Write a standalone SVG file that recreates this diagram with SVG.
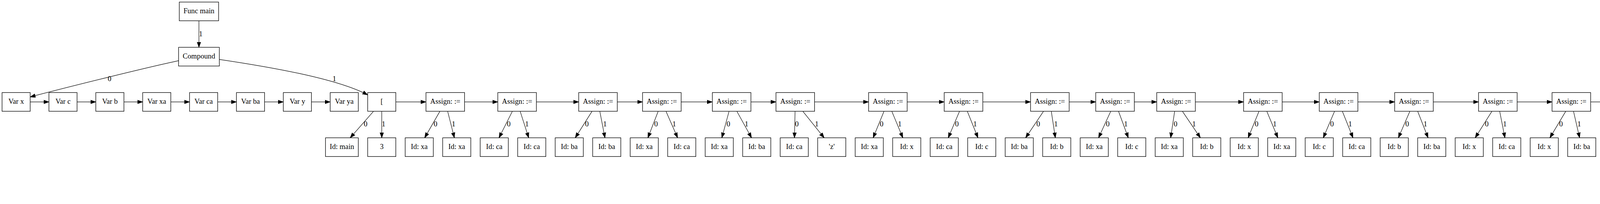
<svg xmlns="http://www.w3.org/2000/svg" width="6683" height="523" viewBox="0 0 6683 523">
<defs>
<style>
.n rect{fill:#fff;stroke:#000;stroke-width:1.33}
text{font-family:"Liberation Serif","Times New Roman",serif;font-size:18.67px;text-anchor:middle;fill:#000}
#edges path{fill:none;stroke:#000;stroke-width:1.2;marker-end:url(#arr)}
</style>
<marker id="arr" markerUnits="userSpaceOnUse" markerWidth="16" markerHeight="12" viewBox="0 -6 16 12" refX="13.33" refY="0" orient="auto">
<path d="M0,-4.67 L13.33,0 L0,4.67 Z" fill="#000" stroke="#000" stroke-width="1"/>
</marker>
</defs>
<rect x="0" y="0" width="6683" height="523" fill="#fff"/>
<g id="edges">
<path d="M509.3,53.33 L509.3,121.33"/><text x="514" y="92.5">1</text>
<path d="M457.2,155.7 C380,172 190,219 77.3,248.5"/><text x="280.4" y="208.3">0</text>
<path d="M561.4,152.3 C680,170 860,200 941.3,243.3"/><text x="856" y="208.3">1</text>
<path d="M77.33,261.33 L125.33,261.33"/>
<path d="M197.33,261.33 L245.33,261.33"/>
<path d="M317.33,261.33 L365.33,261.33"/>
<path d="M437.33,261.33 L485.33,261.33"/>
<path d="M557.33,261.33 L605.33,261.33"/>
<path d="M677.33,261.33 L725.33,261.33"/>
<path d="M797.33,261.33 L845.33,261.33"/>
<path d="M1013.33,261.33 L1090.5,261.33"/>
<path d="M1189.3,261.33 L1274.4,261.33"/>
<path d="M1373.2,261.33 L1481.5,261.33"/>
<path d="M1580.3,261.33 L1644.9,261.33"/>
<path d="M1743.7,261.33 L1823.6,261.33"/>
<path d="M1922.4,261.33 L1986.5,261.33"/>
<path d="M2085.3,261.33 L2223.6,261.33"/>
<path d="M2322.4,261.33 L2417.2,261.33"/>
<path d="M2516,261.33 L2638.3,261.33"/>
<path d="M2737.1,261.33 L2805.1,261.33"/>
<path d="M2903.9,261.33 L2961.3,261.33"/>
<path d="M3060.1,261.33 L3183.6,261.33"/>
<path d="M3282.4,261.33 L3377.4,261.33"/>
<path d="M3476.2,261.33 L3570.4,261.33"/>
<path d="M3669.2,261.33 L3785.1,261.33"/>
<path d="M3883.9,261.33 L3973.3,261.33"/>
<path d="M4072.1,261.33 L4134.5,261.33"/>
<path d="M4206.5,261.33 L4337.2,261.33"/>
<path d="M4409.2,261.33 L4541.3,261.33"/>
<path d="M4613.3,261.33 L4733.3,261.33"/>
<path d="M4805.3,261.33 L4925.1,261.33"/>
<path d="M4997.1,261.33 L5117.2,261.33"/>
<path d="M5189.2,261.33 L5333.3,261.33"/>
<path d="M5405.3,261.33 L5477.2,261.33"/>
<path d="M5549.2,261.33 L5633.3,261.33"/>
<path d="M5705.3,261.33 L5753.3,261.33"/>
<path d="M5825.3,261.33 L5873.3,261.33"/>
<path d="M5945.3,261.33 L5993.3,261.33"/>
<path d="M6065.3,261.33 L6132,261.33"/>
<path d="M6204,261.33 L6269.3,261.33"/>
<path d="M6341.3,261.33 L6413.3,261.33"/>
<path d="M6485.3,261.33 L6545.3,261.33"/>
<path d="M956.2,285.33 L896.5,353.33"/><text x="936" y="324">0</text>
<path d="M977.33,285.33 L977.33,353.33"/><text x="982" y="324">1</text>
<path d="M1126.1,285.33 L1087.1,353.33"/><text x="1115" y="324">0</text>
<path d="M1146,285.33 L1163.2,353.33"/><text x="1161.1" y="324">1</text>
<path d="M1311.7,285.33 L1277.4,353.33"/><text x="1302.5" y="324">0</text>
<path d="M1331.6,285.33 L1353.5,353.33"/><text x="1349" y="324">1</text>
<path d="M1515.6,285.33 L1472.6,353.33"/><text x="1502.3" y="324">0</text>
<path d="M1535.5,285.33 L1548.7,353.33"/><text x="1548.7" y="324">1</text>
<path d="M1685,285.33 L1658.6,353.33"/><text x="1679.5" y="324">0</text>
<path d="M1704.9,285.33 L1734.7,353.33"/><text x="1726" y="324">1</text>
<path d="M1866.4,285.33 L1847.9,353.33"/><text x="1864.7" y="324">0</text>
<path d="M1886.3,285.33 L1924,353.33"/><text x="1911.1" y="324">1</text>
<path d="M2035.4,285.33 L2033.8,353.33"/><text x="2040" y="324">0</text>
<path d="M2055.3,285.33 L2109.9,353.33"/><text x="2091" y="324">1</text>
<path d="M2263.1,285.33 L2235.2,353.33"/><text x="2256.9" y="324">0</text>
<path d="M2283,285.33 L2311.3,353.33"/><text x="2303.4" y="324">1</text>
<path d="M2456.4,285.33 L2427.5,353.33"/><text x="2449.7" y="324">0</text>
<path d="M2476.3,285.33 L2503.6,353.33"/><text x="2496.2" y="324">1</text>
<path d="M2671.4,285.33 L2625.6,353.33"/><text x="2657.8" y="324">0</text>
<path d="M2691.3,285.33 L2701.7,353.33"/><text x="2703.2" y="324">1</text>
<path d="M2843.5,285.33 L2812.3,353.33"/><text x="2835.8" y="324">0</text>
<path d="M2863.4,285.33 L2888.4,353.33"/><text x="2882.2" y="324">1</text>
<path d="M3007.1,285.33 L2996.9,353.33"/><text x="3009.3" y="324">0</text>
<path d="M3027,285.33 L3073,353.33"/><text x="3056.7" y="324">1</text>
<path d="M3223.1,285.33 L3195.2,353.33"/><text x="3216.9" y="324">0</text>
<path d="M3243,285.33 L3271.3,353.33"/><text x="3263.4" y="324">1</text>
<path d="M3416.5,285.33 L3387.6,353.33"/><text x="3409.8" y="324">0</text>
<path d="M3436.4,285.33 L3463.7,353.33"/><text x="3456.3" y="324">1</text>
<path d="M3609.3,285.33 L3579.8,353.33"/><text x="3602.4" y="324">0</text>
<path d="M3629.2,285.33 L3655.9,353.33"/><text x="3648.8" y="324">1</text>
<path d="M3819.3,285.33 L3776.5,353.33"/><text x="3806.1" y="324">0</text>
<path d="M3839.2,285.33 L3852.6,353.33"/><text x="3852.5" y="324">1</text>
<path d="M4008.3,285.33 L3967.7,353.33"/><text x="3996.1" y="324">0</text>
<path d="M4028.2,285.33 L4043.8,353.33"/><text x="4042.6" y="324">1</text>
<path d="M4165.3,285.33 L4150.5,353.33"/><text x="4165.3" y="324">0</text>
<path d="M4185.2,285.33 L4226.6,353.33"/><text x="4212.8" y="324">1</text>
<path d="M4365.8,285.33 L4344.7,353.33"/><text x="4362.8" y="324">0</text>
<path d="M4385.7,285.33 L4420.8,353.33"/><text x="4409.3" y="324">1</text>
<path d="M4567.3,285.33 L4539.3,353.33"/><text x="4561.1" y="324">0</text>
<path d="M4587.3,285.33 L4615.3,353.33"/><text x="4607.5" y="324">1</text>
<path d="M4759.3,285.33 L4731.3,353.33"/><text x="4753.1" y="324">0</text>
<path d="M4779.3,285.33 L4807.3,353.33"/><text x="4799.5" y="324">1</text>
<path d="M4951.2,285.33 L4923.2,353.33"/><text x="4944" y="324">0</text>
<path d="M4971.1,285.33 L4999.3,353.33"/><text x="4991.4" y="324">1</text>
<path d="M5143.3,285.33 L5115.2,353.33"/><text x="5136" y="324">0</text>
<path d="M5163.2,285.33 L5191.3,353.33"/><text x="5183.5" y="324">1</text>
<path d="M5354.4,285.33 L5312.2,353.33"/><text x="5342.5" y="324">0</text>
<path d="M5374.3,285.33 L5388.3,353.33"/><text x="5387.9" y="324">1</text>
<path d="M5508.2,285.33 L5494.3,353.33"/><text x="5508.6" y="324">0</text>
<path d="M5528.2,285.33 L5570.3,353.33"/><text x="5556.1" y="324">1</text>
<path d="M5671.8,285.33 L5678.8,353.33"/><text x="5681.6" y="324">0</text>
<path d="M5789.3,285.33 L5789.3,353.33"/><text x="5794" y="324">0</text>
<path d="M5909.3,285.33 L5909.3,353.33"/><text x="5914" y="324">0</text>
<path d="M6026.8,285.33 L6019.8,353.33"/><text x="6030" y="324">0</text>
<path d="M6156.7,285.33 L6124.6,353.33"/><text x="6148.5" y="324">0</text>
<path d="M6176.6,285.33 L6200.7,353.33"/><text x="6195" y="324">1</text>
<path d="M6305.3,285.33 L6305.3,353.33"/><text x="6310" y="324">0</text>
<path d="M6439.3,285.33 L6411.3,353.33"/><text x="6433.1" y="324">0</text>
<path d="M6459.3,285.33 L6487.3,353.33"/><text x="6479.5" y="324">1</text>
<path d="M6583.7,285.33 L6590.8,353.33"/><text x="6593.6" y="324">0</text>
<path d="M6017.3,401.33 L6017.3,469.33"/><text x="6022" y="440">0</text>
<path d="M6295.3,401.33 L6267.3,469.33"/><text x="6289.1" y="440">0</text>
<path d="M6315.3,401.33 L6343.3,469.33"/><text x="6335.5" y="440">1</text>
<path d="M6583.3,401.33 L6555.3,469.33"/><text x="6577.1" y="440">0</text>
<path d="M6603.3,401.33 L6631.3,469.33"/><text x="6623.5" y="440">1</text>
</g>
<g id="n_func" class="n"><rect x="459" y="5.33" width="100.6" height="48"/><text x="509.3" y="34.1">Func main</text></g>
<g id="n_compound" class="n"><rect x="457.2" y="121.33" width="104.3" height="48"/><text x="509.3" y="150.1">Compound</text></g>
<g id="n_var_x" class="n"><rect x="5.33" y="237.33" width="72" height="48"/><text x="41.33" y="266.1">Var x</text></g>
<g id="n_var_c" class="n"><rect x="125.33" y="237.33" width="72" height="48"/><text x="161.33" y="266.1">Var c</text></g>
<g id="n_var_b" class="n"><rect x="245.33" y="237.33" width="72" height="48"/><text x="281.33" y="266.1">Var b</text></g>
<g id="n_var_xa" class="n"><rect x="365.33" y="237.33" width="72" height="48"/><text x="401.33" y="266.1">Var xa</text></g>
<g id="n_var_ca" class="n"><rect x="485.33" y="237.33" width="72" height="48"/><text x="521.33" y="266.1">Var ca</text></g>
<g id="n_var_ba" class="n"><rect x="605.33" y="237.33" width="72" height="48"/><text x="641.33" y="266.1">Var ba</text></g>
<g id="n_var_y" class="n"><rect x="725.33" y="237.33" width="72" height="48"/><text x="761.33" y="266.1">Var y</text></g>
<g id="n_var_ya" class="n"><rect x="845.33" y="237.33" width="72" height="48"/><text x="881.33" y="266.1">Var ya</text></g>
<g id="n_idx0" class="n"><rect x="941.33" y="237.33" width="72" height="48"/><text x="977.33" y="266.1">[</text></g>
<g id="n_as1" class="n"><rect x="1090.5" y="237.33" width="98.8" height="48"/><text x="1139.9" y="266.1">Assign: :=</text></g>
<g id="n_as2" class="n"><rect x="1274.4" y="237.33" width="98.8" height="48"/><text x="1323.8" y="266.1">Assign: :=</text></g>
<g id="n_as3" class="n"><rect x="1481.5" y="237.33" width="98.8" height="48"/><text x="1530.9" y="266.1">Assign: :=</text></g>
<g id="n_as4" class="n"><rect x="1644.9" y="237.33" width="98.8" height="48"/><text x="1694.3" y="266.1">Assign: :=</text></g>
<g id="n_as5" class="n"><rect x="1823.6" y="237.33" width="98.8" height="48"/><text x="1873" y="266.1">Assign: :=</text></g>
<g id="n_as6" class="n"><rect x="1986.5" y="237.33" width="98.8" height="48"/><text x="2035.9" y="266.1">Assign: :=</text></g>
<g id="n_as7" class="n"><rect x="2223.6" y="237.33" width="98.8" height="48"/><text x="2273" y="266.1">Assign: :=</text></g>
<g id="n_as8" class="n"><rect x="2417.2" y="237.33" width="98.8" height="48"/><text x="2466.6" y="266.1">Assign: :=</text></g>
<g id="n_as9" class="n"><rect x="2638.3" y="237.33" width="98.8" height="48"/><text x="2687.7" y="266.1">Assign: :=</text></g>
<g id="n_as10" class="n"><rect x="2805.1" y="237.33" width="98.8" height="48"/><text x="2854.5" y="266.1">Assign: :=</text></g>
<g id="n_as11" class="n"><rect x="2961.3" y="237.33" width="98.8" height="48"/><text x="3010.7" y="266.1">Assign: :=</text></g>
<g id="n_as12" class="n"><rect x="3183.6" y="237.33" width="98.8" height="48"/><text x="3233" y="266.1">Assign: :=</text></g>
<g id="n_as13" class="n"><rect x="3377.4" y="237.33" width="98.8" height="48"/><text x="3426.8" y="266.1">Assign: :=</text></g>
<g id="n_as14" class="n"><rect x="3570.4" y="237.33" width="98.8" height="48"/><text x="3619.8" y="266.1">Assign: :=</text></g>
<g id="n_as15" class="n"><rect x="3785.1" y="237.33" width="98.8" height="48"/><text x="3834.5" y="266.1">Assign: :=</text></g>
<g id="n_as16" class="n"><rect x="3973.3" y="237.33" width="98.8" height="48"/><text x="4022.7" y="266.1">Assign: :=</text></g>
<g id="n_gt1" class="n"><rect x="4134.5" y="237.33" width="72" height="48"/><text x="4170.5" y="266.1">&gt;</text></g>
<g id="n_lt1" class="n"><rect x="4337.2" y="237.33" width="72" height="48"/><text x="4373.2" y="266.1">&lt;</text></g>
<g id="n_ge1" class="n"><rect x="4541.3" y="237.33" width="72" height="48"/><text x="4577.3" y="266.1">&gt;=</text></g>
<g id="n_le1" class="n"><rect x="4733.3" y="237.33" width="72" height="48"/><text x="4769.3" y="266.1">&lt;=</text></g>
<g id="n_eq1" class="n"><rect x="4925.1" y="237.33" width="72" height="48"/><text x="4961.1" y="266.1">=</text></g>
<g id="n_gtlt1" class="n"><rect x="5117.2" y="237.33" width="72" height="48"/><text x="5153.2" y="266.1">&gt;&lt;</text></g>
<g id="n_gt2" class="n"><rect x="5333.3" y="237.33" width="72" height="48"/><text x="5369.3" y="266.1">&gt;</text></g>
<g id="n_gt3" class="n"><rect x="5477.2" y="237.33" width="72" height="48"/><text x="5513.2" y="266.1">&gt;</text></g>
<g id="n_q1" class="n"><rect x="5633.3" y="237.33" width="72" height="48"/><text x="5669.3" y="266.1">?</text></g>
<g id="n_sz1" class="n"><rect x="5753.3" y="237.33" width="72" height="48"/><text x="5789.3" y="266.1">sizeof</text></g>
<g id="n_sz2" class="n"><rect x="5873.3" y="237.33" width="72" height="48"/><text x="5909.3" y="266.1">sizeof</text></g>
<g id="n_sz3" class="n"><rect x="5993.3" y="237.33" width="72" height="48"/><text x="6029.3" y="266.1">sizeof</text></g>
<g id="n_idx1" class="n"><rect x="6132" y="237.33" width="72" height="48"/><text x="6168" y="266.1">[</text></g>
<g id="n_sz4" class="n"><rect x="6269.3" y="237.33" width="72" height="48"/><text x="6305.3" y="266.1">sizeof</text></g>
<g id="n_idx2" class="n"><rect x="6413.3" y="237.33" width="72" height="48"/><text x="6449.3" y="266.1">[</text></g>
<g id="n_sz5" class="n"><rect x="6545.3" y="237.33" width="72" height="48"/><text x="6581.3" y="266.1">sizeof</text></g>
<g id="n_id_main" class="n"><rect x="833.33" y="353.33" width="84" height="48"/><text x="875.33" y="382.1">Id: main</text></g>
<g id="n_c3" class="n"><rect x="941.33" y="353.33" width="72" height="48"/><text x="977.33" y="382.1">3</text></g>
<g id="n_r3_1" class="n"><rect x="1037.33" y="353.33" width="72" height="48"/><text x="1073.33" y="382.1">Id: xa</text></g>
<g id="n_r3_2" class="n"><rect x="1133.33" y="353.33" width="72" height="48"/><text x="1169.33" y="382.1">Id: xa</text></g>
<g id="n_r3_3" class="n"><rect x="1229.33" y="353.33" width="72" height="48"/><text x="1265.33" y="382.1">Id: ca</text></g>
<g id="n_r3_4" class="n"><rect x="1325.33" y="353.33" width="72" height="48"/><text x="1361.33" y="382.1">Id: ca</text></g>
<g id="n_r3_5" class="n"><rect x="1421.33" y="353.33" width="72" height="48"/><text x="1457.33" y="382.1">Id: ba</text></g>
<g id="n_r3_6" class="n"><rect x="1517.33" y="353.33" width="72" height="48"/><text x="1553.33" y="382.1">Id: ba</text></g>
<g id="n_r3_7" class="n"><rect x="1613.33" y="353.33" width="72" height="48"/><text x="1649.33" y="382.1">Id: xa</text></g>
<g id="n_r3_8" class="n"><rect x="1709.33" y="353.33" width="72" height="48"/><text x="1745.33" y="382.1">Id: ca</text></g>
<g id="n_r3_9" class="n"><rect x="1805.33" y="353.33" width="72" height="48"/><text x="1841.33" y="382.1">Id: xa</text></g>
<g id="n_r3_10" class="n"><rect x="1901.33" y="353.33" width="72" height="48"/><text x="1937.33" y="382.1">Id: ba</text></g>
<g id="n_r3_11" class="n"><rect x="1997.33" y="353.33" width="72" height="48"/><text x="2033.33" y="382.1">Id: ca</text></g>
<g id="n_r3_12" class="n"><rect x="2093.33" y="353.33" width="72" height="48"/><text x="2129.33" y="382.1">'z'</text></g>
<g id="n_r3_13" class="n"><rect x="2189.33" y="353.33" width="72" height="48"/><text x="2225.33" y="382.1">Id: xa</text></g>
<g id="n_r3_14" class="n"><rect x="2285.33" y="353.33" width="72" height="48"/><text x="2321.33" y="382.1">Id: x</text></g>
<g id="n_r3_15" class="n"><rect x="2381.33" y="353.33" width="72" height="48"/><text x="2417.33" y="382.1">Id: ca</text></g>
<g id="n_r3_16" class="n"><rect x="2477.33" y="353.33" width="72" height="48"/><text x="2513.33" y="382.1">Id: c</text></g>
<g id="n_r3_17" class="n"><rect x="2573.33" y="353.33" width="72" height="48"/><text x="2609.33" y="382.1">Id: ba</text></g>
<g id="n_r3_18" class="n"><rect x="2669.33" y="353.33" width="72" height="48"/><text x="2705.33" y="382.1">Id: b</text></g>
<g id="n_r3_19" class="n"><rect x="2765.33" y="353.33" width="72" height="48"/><text x="2801.33" y="382.1">Id: xa</text></g>
<g id="n_r3_20" class="n"><rect x="2861.33" y="353.33" width="72" height="48"/><text x="2897.33" y="382.1">Id: c</text></g>
<g id="n_r3_21" class="n"><rect x="2957.33" y="353.33" width="72" height="48"/><text x="2993.33" y="382.1">Id: xa</text></g>
<g id="n_r3_22" class="n"><rect x="3053.33" y="353.33" width="72" height="48"/><text x="3089.33" y="382.1">Id: b</text></g>
<g id="n_r3_23" class="n"><rect x="3149.33" y="353.33" width="72" height="48"/><text x="3185.33" y="382.1">Id: x</text></g>
<g id="n_r3_24" class="n"><rect x="3245.33" y="353.33" width="72" height="48"/><text x="3281.33" y="382.1">Id: xa</text></g>
<g id="n_r3_25" class="n"><rect x="3341.33" y="353.33" width="72" height="48"/><text x="3377.33" y="382.1">Id: c</text></g>
<g id="n_r3_26" class="n"><rect x="3437.33" y="353.33" width="72" height="48"/><text x="3473.33" y="382.1">Id: ca</text></g>
<g id="n_r3_27" class="n"><rect x="3533.33" y="353.33" width="72" height="48"/><text x="3569.33" y="382.1">Id: b</text></g>
<g id="n_r3_28" class="n"><rect x="3629.33" y="353.33" width="72" height="48"/><text x="3665.33" y="382.1">Id: ba</text></g>
<g id="n_r3_29" class="n"><rect x="3725.33" y="353.33" width="72" height="48"/><text x="3761.33" y="382.1">Id: x</text></g>
<g id="n_r3_30" class="n"><rect x="3821.33" y="353.33" width="72" height="48"/><text x="3857.33" y="382.1">Id: ca</text></g>
<g id="n_r3_31" class="n"><rect x="3917.33" y="353.33" width="72" height="48"/><text x="3953.33" y="382.1">Id: x</text></g>
<g id="n_r3_32" class="n"><rect x="4013.33" y="353.33" width="72" height="48"/><text x="4049.33" y="382.1">Id: ba</text></g>
<g id="n_r3_33" class="n"><rect x="4109.33" y="353.33" width="72" height="48"/><text x="4145.33" y="382.1">Id: xa</text></g>
<g id="n_r3_34" class="n"><rect x="4205.33" y="353.33" width="72" height="48"/><text x="4241.33" y="382.1">Id: xa</text></g>
<g id="n_r3_35" class="n"><rect x="4301.33" y="353.33" width="72" height="48"/><text x="4337.33" y="382.1">Id: xa</text></g>
<g id="n_r3_36" class="n"><rect x="4397.33" y="353.33" width="72" height="48"/><text x="4433.33" y="382.1">Id: xa</text></g>
<g id="n_r3_37" class="n"><rect x="4493.33" y="353.33" width="72" height="48"/><text x="4529.33" y="382.1">Id: xa</text></g>
<g id="n_r3_38" class="n"><rect x="4589.33" y="353.33" width="72" height="48"/><text x="4625.33" y="382.1">Id: xa</text></g>
<g id="n_r3_39" class="n"><rect x="4685.33" y="353.33" width="72" height="48"/><text x="4721.33" y="382.1">Id: xa</text></g>
<g id="n_r3_40" class="n"><rect x="4781.33" y="353.33" width="72" height="48"/><text x="4817.33" y="382.1">Id: xa</text></g>
<g id="n_r3_41" class="n"><rect x="4877.33" y="353.33" width="72" height="48"/><text x="4913.33" y="382.1">Id: xa</text></g>
<g id="n_r3_42" class="n"><rect x="4973.33" y="353.33" width="72" height="48"/><text x="5009.33" y="382.1">Id: xa</text></g>
<g id="n_r3_43" class="n"><rect x="5069.33" y="353.33" width="72" height="48"/><text x="5105.33" y="382.1">Id: xa</text></g>
<g id="n_r3_44" class="n"><rect x="5165.33" y="353.33" width="72" height="48"/><text x="5201.33" y="382.1">Id: xa</text></g>
<g id="n_r3_45" class="n"><rect x="5261.33" y="353.33" width="72" height="48"/><text x="5297.33" y="382.1">Id: xa</text></g>
<g id="n_r3_46" class="n"><rect x="5357.33" y="353.33" width="72" height="48"/><text x="5393.33" y="382.1">Id: x</text></g>
<g id="n_r3_47" class="n"><rect x="5453.33" y="353.33" width="72" height="48"/><text x="5489.33" y="382.1">Id: x</text></g>
<g id="n_r3_48" class="n"><rect x="5549.33" y="353.33" width="72" height="48"/><text x="5585.33" y="382.1">Id: xa</text></g>
<g id="n_r3_49" class="n"><rect x="5645.33" y="353.33" width="72" height="48"/><text x="5681.33" y="382.1">Id: xa</text></g>
<g id="n_r3_50" class="n"><rect x="5753.3" y="353.33" width="72" height="48"/><text x="5789.3" y="382.1">Id: xa</text></g>
<g id="n_r3_51" class="n"><rect x="5873.3" y="353.33" width="72" height="48"/><text x="5909.3" y="382.1">Id: ba</text></g>
<g id="n_r3_sz" class="n"><rect x="5981.3" y="353.33" width="72" height="48"/><text x="6017.3" y="382.1">sizeof</text></g>
<g id="n_r3_52" class="n"><rect x="6077.3" y="353.33" width="72" height="48"/><text x="6113.3" y="382.1">Id: x</text></g>
<g id="n_r3_53" class="n"><rect x="6173.3" y="353.33" width="72" height="48"/><text x="6209.3" y="382.1">2</text></g>
<g id="n_r3_idx" class="n"><rect x="6269.3" y="353.33" width="72" height="48"/><text x="6305.3" y="382.1">[</text></g>
<g id="n_r3_54" class="n"><rect x="6365.3" y="353.33" width="72" height="48"/><text x="6401.3" y="382.1">Id: xa</text></g>
<g id="n_r3_55" class="n"><rect x="6461.3" y="353.33" width="72" height="48"/><text x="6497.3" y="382.1">2</text></g>
<g id="n_r3_idx2" class="n"><rect x="6557.3" y="353.33" width="72" height="48"/><text x="6593.3" y="382.1">[</text></g>
<g id="n_r4_1" class="n"><rect x="5981.3" y="469.33" width="72" height="48"/><text x="6017.3" y="498.1">Id: ba</text></g>
<g id="n_r4_2" class="n"><rect x="6221.3" y="469.33" width="72" height="48"/><text x="6257.3" y="498.1">Id: x</text></g>
<g id="n_r4_3" class="n"><rect x="6317.3" y="469.33" width="72" height="48"/><text x="6353.3" y="498.1">2</text></g>
<g id="n_r4_4" class="n"><rect x="6509.3" y="469.33" width="72" height="48"/><text x="6545.3" y="498.1">Id: xa</text></g>
<g id="n_r4_5" class="n"><rect x="6605.3" y="469.33" width="72" height="48"/><text x="6641.3" y="498.1">2</text></g>
</svg>
